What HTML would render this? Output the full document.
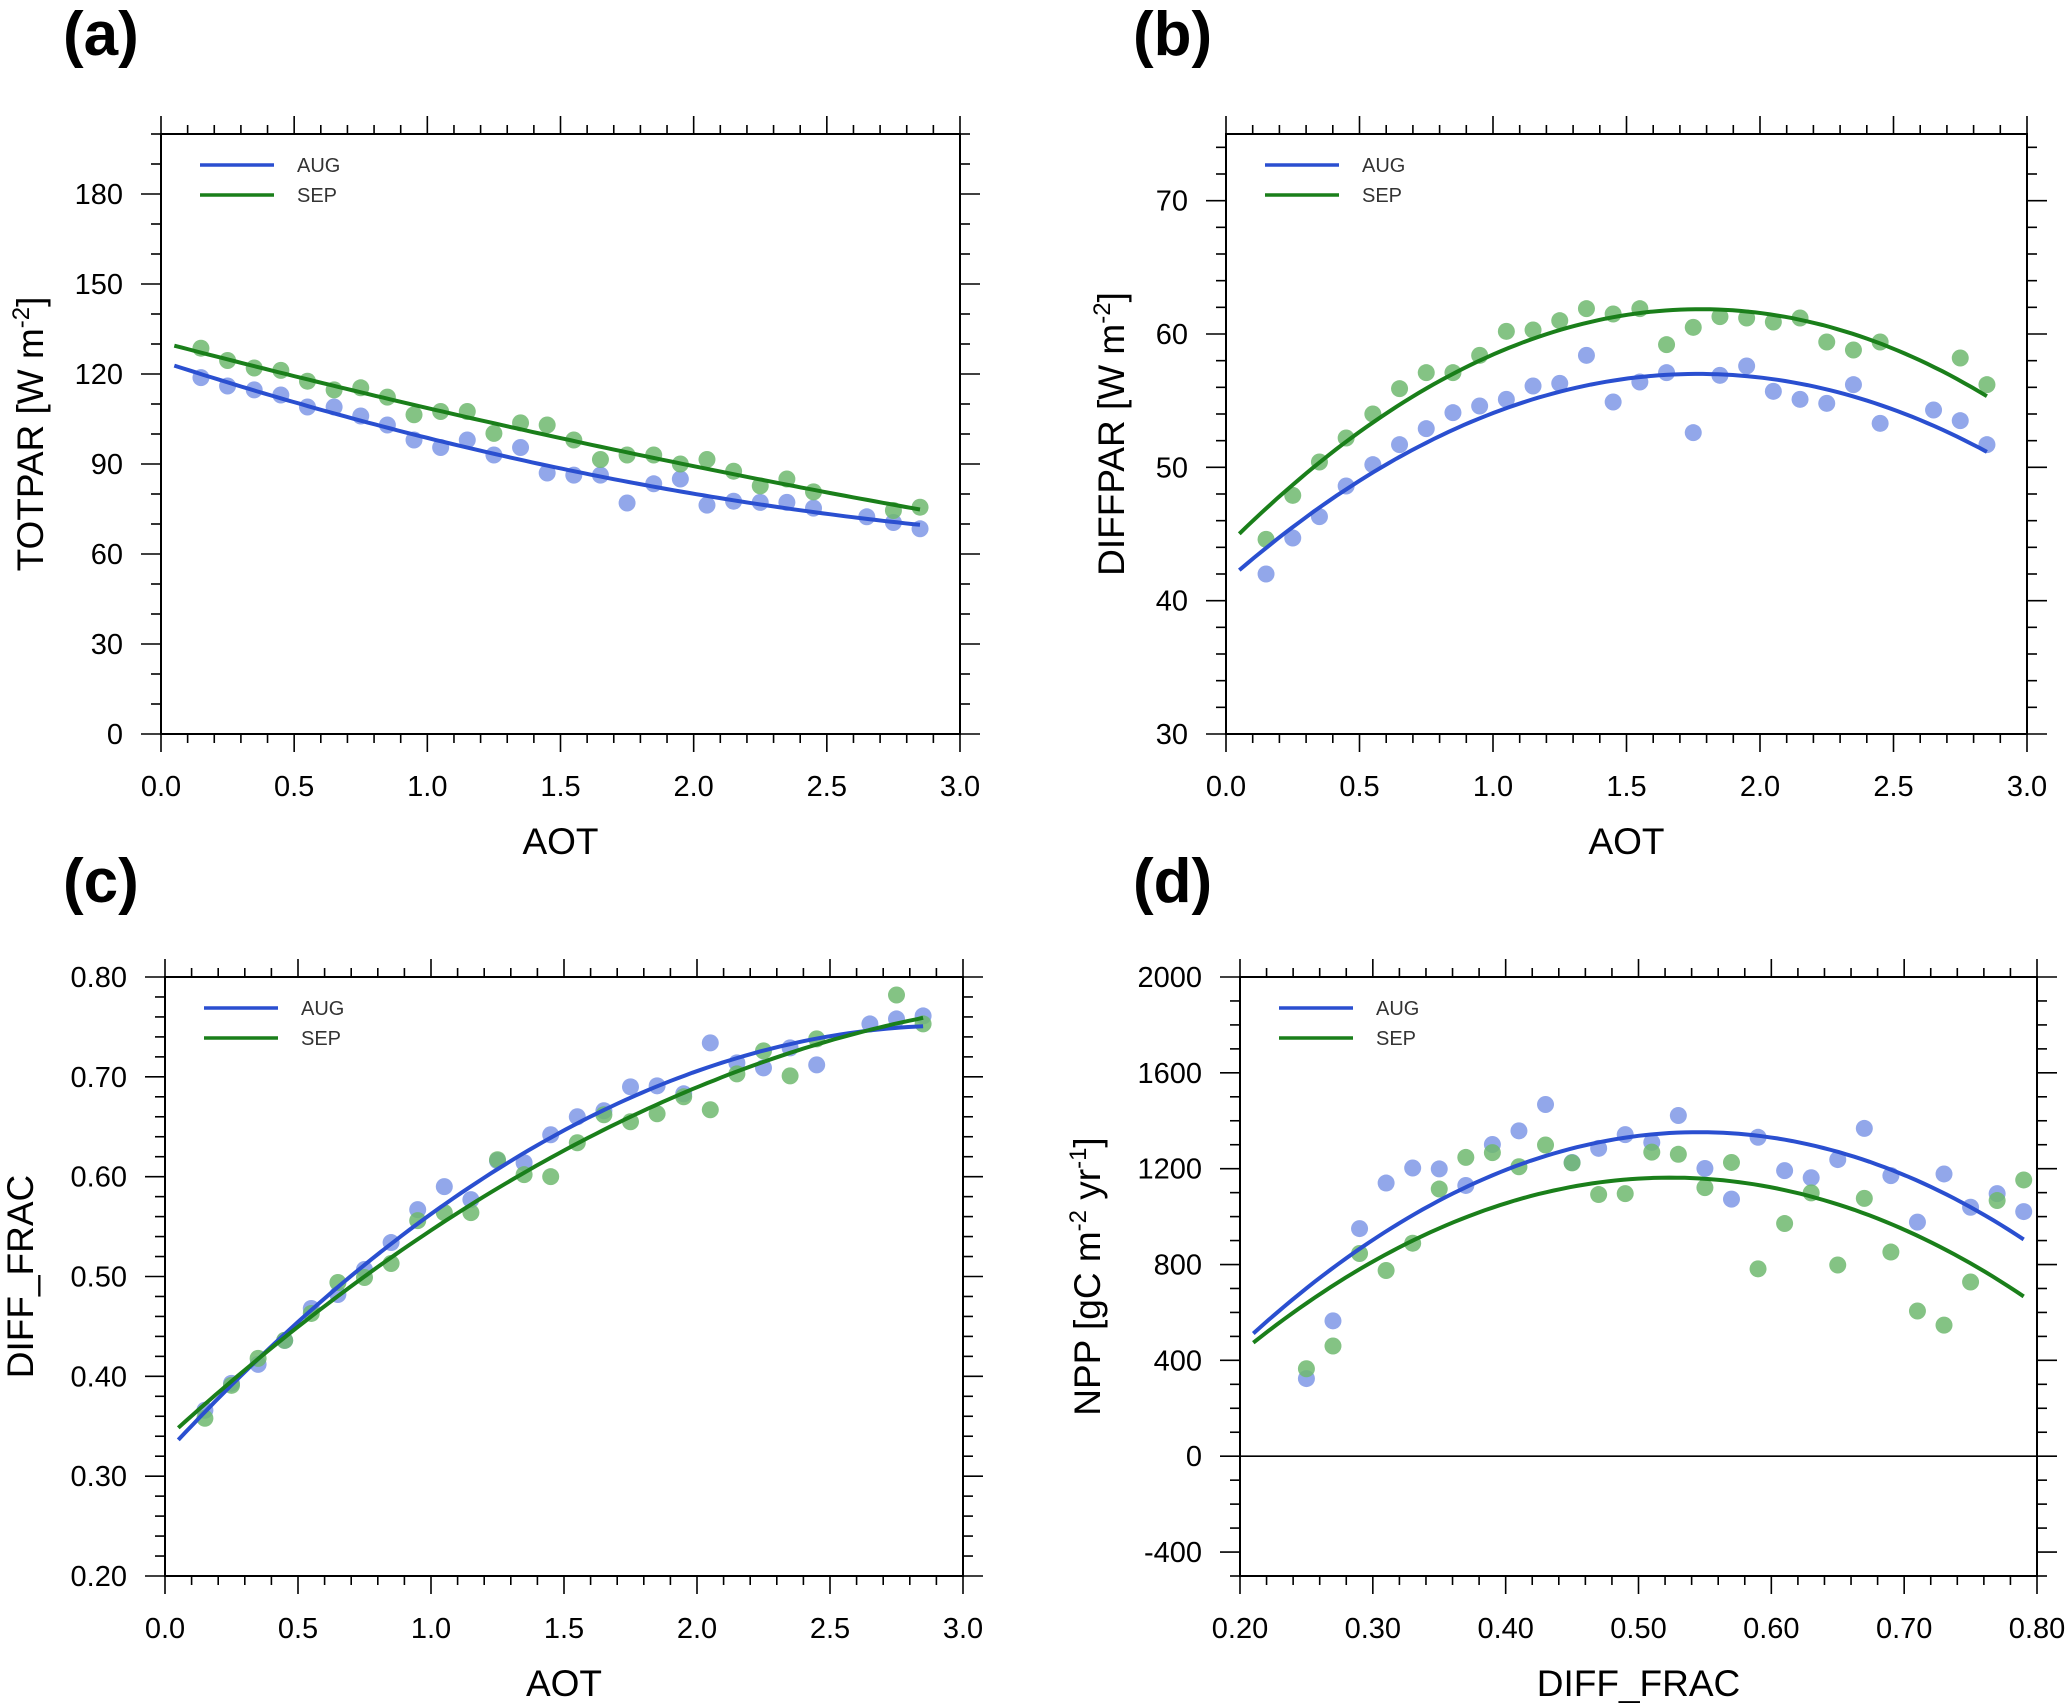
<!DOCTYPE html>
<html><head><meta charset="utf-8"><style>
html,body{margin:0;padding:0;background:#fff;}
svg{display:block;font-family:"Liberation Sans",sans-serif;}
</style></head><body>
<svg id="fig" width="2067" height="1703" viewBox="0 0 2067 1703" xmlns="http://www.w3.org/2000/svg"></svg>
<script>
// ---- data ----
const aotX = [0.15,0.25,0.35,0.45,0.55,0.65,0.75,0.85,0.95,1.05,1.15,1.25,1.35,1.45,1.55,1.65,1.75,1.85,1.95,2.05,2.15,2.25,2.35,2.45,2.55,2.65,2.75,2.85];
const totparAug = [118.8,116,114.7,113,109,109,106,103,98,95.5,98,93,95.5,87,86.3,86.3,77,83.4,85,76.3,77.6,77.2,77.2,75.3,null,72.4,70.5,68.4];
const totparSep = [128.6,124.5,122,121.2,117.6,114.7,115.4,112.3,106.4,107.5,107.5,100.2,103.7,103,98,91.5,93,93,90,91.5,87.6,82.7,85,80.7,null,null,74.5,75.6];
const diffparAug = [42.0,44.7,46.3,48.6,50.2,51.7,52.9,54.1,54.6,55.1,56.1,56.3,58.4,54.9,56.4,57.1,52.6,56.9,57.6,55.7,55.1,54.8,56.2,53.3,null,54.3,53.5,51.7];
const diffparSep = [44.6,47.9,50.4,52.2,54,55.9,57.1,57.1,58.4,60.2,60.3,61,61.9,61.5,61.9,59.2,60.5,61.3,61.2,60.9,61.2,59.4,58.8,59.4,null,null,58.2,56.2];
const difffracAug = [0.366,0.393,0.412,0.436,0.468,0.482,0.507,0.534,0.567,0.59,0.577,0.616,0.614,0.642,0.66,0.666,0.69,0.691,0.683,0.734,0.714,0.709,0.729,0.712,null,0.753,0.758,0.761];
const difffracSep = [0.358,0.391,0.418,0.436,0.463,0.494,0.499,0.513,0.556,0.564,0.564,0.617,0.602,0.6,0.634,0.662,0.655,0.663,0.68,0.667,0.703,0.726,0.701,0.738,null,null,0.782,0.753];
const dfX = [0.25,0.27,0.29,0.31,0.33,0.35,0.37,0.39,0.41,0.43,0.45,0.47,0.49,0.51,0.53,0.55,0.57,0.59,0.61,0.63,0.65,0.67,0.69,0.71,0.73,0.75,0.77,0.79];
const nppAug = [324,565,950,1140,1203,1199,1130,1301,1358,1468,1226,1285,1342,1310,1422,1201,1073,1331,1192,1162,1238,1368,1171,977,1178,1039,1096,1021];
const nppSep = [365,460,846,775,889,1115,1247,1267,1208,1299,1224,1092,1096,1269,1260,1121,1226,782,971,1099,798,1076,852,606,547,727,1067,1153];
const aotTicks = ["0.0","0.5","1.0","1.5","2.0","2.5","3.0"];
const dfTicks = ["0.20","0.30","0.40","0.50","0.60","0.70","0.80"];
const totTicks = ["0","30","60","90","120","150","180"];
const diffparTicks = ["30","40","50","60","70"];
const fracTicks = ["0.20","0.30","0.40","0.50","0.60","0.70","0.80"];
const nppTicks = ["-400","0","400","800","1200","1600","2000"];
const legendLabels = ["AUG","SEP"];

const NS="http://www.w3.org/2000/svg";
const svg=document.getElementById('fig');
const BLUE_L="#2a4fd0", GREEN_L="#1a7f1a", BLUE_D="#7f98e6", GREEN_D="#6fb86f";
function mk(tag,attrs,parent){const e=document.createElementNS(NS,tag);for(const k in attrs)e.setAttribute(k,attrs[k]);(parent||svg).appendChild(e);return e;}

function quadFit(xs,ys){
  let n=0,sx=0,sx2=0,sx3=0,sx4=0,sy=0,sxy=0,sx2y=0;
  for(let i=0;i<xs.length;i++){if(ys[i]==null)continue;const x=xs[i],y=ys[i];n++;sx+=x;sx2+=x*x;sx3+=x*x*x;sx4+=x*x*x*x;sy+=y;sxy+=x*y;sx2y+=x*x*y;}
  const M=[[n,sx,sx2,sy],[sx,sx2,sx3,sxy],[sx2,sx3,sx4,sx2y]];
  for(let i=0;i<3;i++){let p=i;for(let r=i+1;r<3;r++)if(Math.abs(M[r][i])>Math.abs(M[p][i]))p=r;[M[i],M[p]]=[M[p],M[i]];
    for(let r=0;r<3;r++){if(r===i)continue;const f=M[r][i]/M[i][i];for(let c=i;c<4;c++)M[r][c]-=f*M[i][c];}}
  return [M[0][3]/M[0][0],M[1][3]/M[1][1],M[2][3]/M[2][2]];
}

function panel(cfg){
  const g=mk('g',{});
  
  
  const {L,R,T,B,xmin,xmax,ymin,ymax}=cfg;
  const sx=v=>L+(v-xmin)/(xmax-xmin)*(R-L);
  const sy=v=>B-(v-ymin)/(ymax-ymin)*(B-T);
  // panel label
  const pl=mk('text',{x:cfg.lx,y:cfg.ly,'font-size':62,'font-weight':'bold','font-family':'"Liberation Sans",sans-serif'},g);pl.textContent=cfg.label;
  
  
  // ticks
  const tk=mk('g',{stroke:'#000','stroke-width':1.6},g);
  const eps=1e-9;
  for(let v=xmin;v<=xmax+eps;v+=cfg.xminor){
    const isMaj=Math.abs(((v-xmin)/cfg.xmajor)-Math.round((v-xmin)/cfg.xmajor))<1e-6;
    const len=isMaj?18:9;const x=sx(v);
    mk('line',{x1:x,x2:x,y1:B,y2:B+len},tk);mk('line',{x1:x,x2:x,y1:T,y2:T-len},tk);
  }
  for(let v=ymin;v<=ymax+eps;v+=cfg.yminor){
    const isMaj=Math.abs(((v-cfg.ymaj0)/cfg.ymajor)-Math.round((v-cfg.ymaj0)/cfg.ymajor))<1e-6;
    const len=isMaj?20:10;const y=sy(v);
    mk('line',{x1:L,x2:L-len,y1:y,y2:y},tk);mk('line',{x1:R,x2:R+len,y1:y,y2:y},tk);
  }
  mk('rect',{x:L,y:T,width:R-L,height:B-T,fill:'none',stroke:'#000','stroke-width':2},g);
  if(cfg.zeroLine){mk('line',{x1:L,x2:R,y1:sy(0),y2:sy(0),stroke:'#000','stroke-width':1.6},g);}
  // tick labels
  cfg.xTicks.forEach(s=>{const t=mk('text',{x:sx(parseFloat(s)),y:B+62,'text-anchor':'middle','font-size':29},g);t.textContent=s;
    });
  cfg.yTicks.forEach(s=>{const t=mk('text',{x:L-38,y:sy(parseFloat(s))+10,'text-anchor':'end','font-size':29},g);t.textContent=s;
    });
  // axis titles
  const xt=mk('text',{x:(L+R)/2,y:B+120,'text-anchor':'middle','font-size':37},g);xt.textContent=cfg.xTitle;
  
  const yt=mk('text',{x:0,y:0,'text-anchor':'middle','font-size':37,transform:`translate(${cfg.ytx},${(T+B)/2}) rotate(-90)`},g);
  
  cfg.yTitle.forEach(p=>{const ts=mk('tspan',{},yt);ts.textContent=p[0];if(p[1]){ts.setAttribute('font-size',24);ts.setAttribute('dy',-14);}else if(p[2]){ts.setAttribute('dy',14);}});
  // dots
  const series=[[cfg.aug,BLUE_D,BLUE_L,'aug'],[cfg.sep,GREEN_D,GREEN_L,'sep']];
  series.forEach(([ys,dc,lc,nm])=>{
    ys.forEach((y,i)=>{if(y==null)return;const c=mk('circle',{cx:sx(cfg.xs[i]),cy:sy(y),r:8.5,fill:dc,'fill-opacity':0.85},g);
      });
  });
  series.forEach(([ys,dc,lc,nm])=>{
    const co=quadFit(cfg.xs,ys);let d='';
    for(let k=0;k<=100;k++){const x=cfg.f0+(cfg.f1-cfg.f0)*k/100;const y=co[0]+co[1]*x+co[2]*x*x;d+=(k?'L':'M')+sx(x).toFixed(1)+','+sy(y).toFixed(1);}
    const p=mk('path',{d:d,fill:'none',stroke:lc,'stroke-width':4},g);
    
  });
  // legend
  legendLabels.forEach((s,i)=>{const y=T+31+i*30;
    const ln=mk('line',{x1:L+39,x2:L+113,y1:y,y2:y,stroke:i?GREEN_L:BLUE_L,'stroke-width':3.5},g);
    
    const t=mk('text',{x:L+136,y:y+7,'font-size':20,fill:'#333'},g);t.textContent=s;
    });
}

panel({name:'panel-a-totpar',label:'(a)',lx:63,ly:55,L:161,R:960,T:134,B:734,xmin:0,xmax:3,ymin:0,ymax:200,xmajor:0.5,xminor:0.1,ymajor:30,ymaj0:0,yminor:10,
  xTicks:aotTicks,yTicks:totTicks,xTitle:'AOT',ytx:43,yTitle:[['TOTPAR [W m'],['-2',1],[']',0,1]],xs:aotX,aug:totparAug,sep:totparSep,f0:0.05,f1:2.85});
panel({name:'panel-b-diffpar',label:'(b)',lx:1133,ly:55,L:1226,R:2027,T:134,B:734,xmin:0,xmax:3,ymin:30,ymax:75,xmajor:0.5,xminor:0.1,ymajor:10,ymaj0:30,yminor:2,
  xTicks:aotTicks,yTicks:diffparTicks,xTitle:'AOT',ytx:1124,yTitle:[['DIFFPAR [W m'],['-2',1],[']',0,1]],xs:aotX,aug:diffparAug,sep:diffparSep,f0:0.05,f1:2.85});
panel({name:'panel-c-difffrac',label:'(c)',lx:63,ly:902,L:165,R:963,T:977,B:1576,xmin:0,xmax:3,ymin:0.2,ymax:0.8,xmajor:0.5,xminor:0.1,ymajor:0.1,ymaj0:0.2,yminor:0.02,
  xTicks:aotTicks,yTicks:fracTicks,xTitle:'AOT',ytx:33,yTitle:[['DIFF_FRAC']],xs:aotX,aug:difffracAug,sep:difffracSep,f0:0.05,f1:2.85});
panel({name:'panel-d-npp',label:'(d)',lx:1133,ly:902,L:1240,R:2037,T:977,B:1576,xmin:0.2,xmax:0.8,ymin:-500,ymax:2000,xmajor:0.1,xminor:0.02,ymajor:400,ymaj0:-400,yminor:100,zeroLine:true,
  xTicks:dfTicks,yTicks:nppTicks,xTitle:'DIFF_FRAC',ytx:1100,yTitle:[['NPP [gC m'],['-2',1],[' yr',0,1],['-1',1],[']',0,1]],xs:dfX,aug:nppAug,sep:nppSep,f0:0.21,f1:0.79});
</script>
</body></html>
